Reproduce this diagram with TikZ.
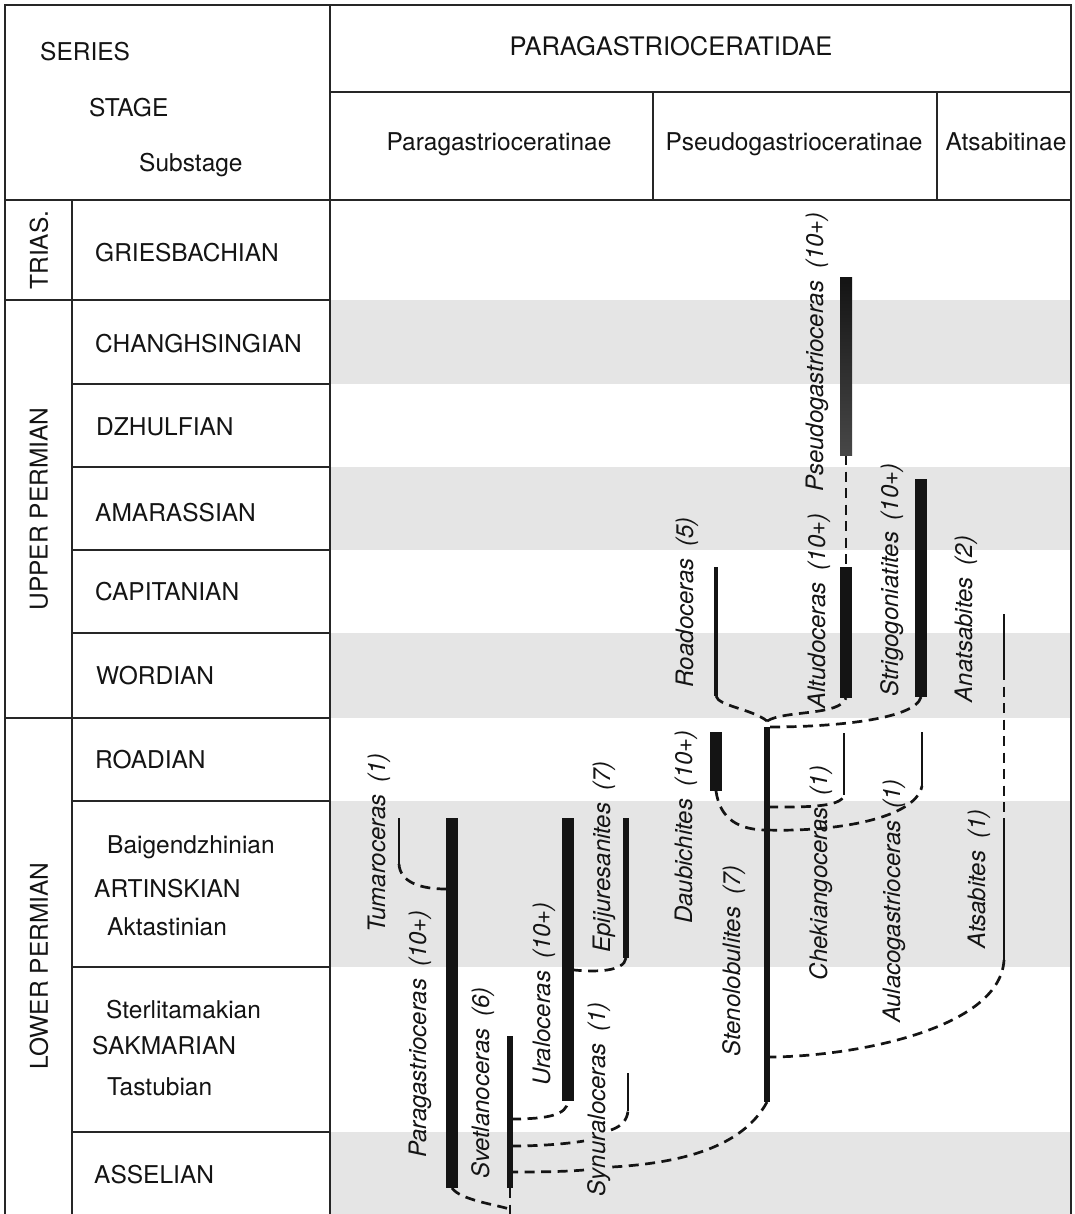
\documentclass[tikz,border=0pt]{standalone}
\usepackage{fontspec}
\setmainfont{TeX Gyre Heros}
\definecolor{bandgray}{RGB}{229,229,229}
\definecolor{ink}{RGB}{20,20,20}
\begin{document}
\begin{tikzpicture}[x=1pt,y=-1pt,
  frame/.style={line width=1.4pt, draw=black!85},
  band/.style={fill=bandgray, draw=none},
  hdr/.style={font=\fontsize{24.5}{28}\selectfont, inner sep=0pt, text=ink},
  stagelbl/.style={font=\fontsize{24.5}{28}\selectfont, inner sep=0pt, anchor=base west, text=ink},
  serieslbl/.style={font=\fontsize{24.5}{28}\selectfont, inner sep=0pt, rotate=90, text=ink},
  taxon/.style={font=\fontsize{24}{28}\selectfont\itshape, inner sep=0pt, rotate=90, anchor=base, text=ink},
  barwide/.style={line width=12pt, draw=ink},
  barmid/.style={line width=5.5pt, draw=ink},
  barthin/.style={line width=2.1pt, draw=ink},
  link/.style={line width=2.7pt, draw=ink, dash pattern=on 10pt off 6.5pt}]
\useasboundingbox (0,0) rectangle (1074,1214);
\fill[white] (0,0) rectangle (1074,1214);

% shaded stage bands
\fill[band] (331,300) rectangle (1071,384);
\fill[band] (331,467) rectangle (1071,550);
\fill[band] (331,633) rectangle (1071,718);
\fill[band] (331,801) rectangle (1071,967);
\fill[band] (331,1132) rectangle (1071,1214);

% frame
\draw[frame] (5,1214) -- (5,5) -- (1071,5) -- (1071,1214);
\draw[frame] (330,5) -- (330,1214);
\draw[frame] (330,92) -- (1071,92);
\draw[frame] (5,200) -- (1071,200);
\draw[frame] (653,92) -- (653,200);
\draw[frame] (937,92) -- (937,200);
\draw[frame] (72,200) -- (72,1214);
\draw[frame] (5,300) -- (330,300);
\draw[frame] (5,718) -- (330,718);
\foreach \yy in {384,467,550,633,801,967,1132} \draw[frame] (72,\yy) -- (330,\yy);

% header texts
\node[hdr, anchor=base west] (hSeries) at (40,61) {SERIES};
\node[hdr, anchor=base west] (hStage) at (89,117) {STAGE};
\node[hdr, anchor=base west] (hSub) at (139,172) {Substage};
\node[hdr, anchor=base, font=\fontsize{25.5}{28}\selectfont] (hFam) at (671,56) {PARAGASTRIOCERATIDAE};
\node[hdr, anchor=base] (hPara) at (499,151) {Paragastrioceratinae};
\node[hdr, anchor=base] (hPseu) at (794,151) {Pseudogastrioceratinae};
\node[hdr, anchor=base] (hAts) at (1006,151) {Atsabitinae};

% series
\node[serieslbl] (sTri) at (39,250) {TRIAS.};
\node[serieslbl] (sUp) at (39,509) {UPPER PERMIAN};
\node[serieslbl] (sLow) at (39,966) {LOWER PERMIAN};

% stages
\node[stagelbl] (stGri) at (95,262) {GRIESBACHIAN};
\node[stagelbl] (stCha) at (95,352) {CHANGHSINGIAN};
\node[stagelbl] (stDzh) at (96,435) {DZHULFIAN};
\node[stagelbl] (stAma) at (95,521) {AMARASSIAN};
\node[stagelbl] (stCap) at (95,600) {CAPITANIAN};
\node[stagelbl] (stWor) at (96,684) {WORDIAN};
\node[stagelbl] (stRoa) at (95,768) {ROADIAN};
\node[stagelbl] (stBai) at (107,853) {Baigendzhinian};
\node[stagelbl] (stArt) at (94,897) {ARTINSKIAN};
\node[stagelbl] (stAkt) at (107,935) {Aktastinian};
\node[stagelbl] (stSte) at (106,1018) {Sterlitamakian};
\node[stagelbl] (stSak) at (92,1054) {SAKMARIAN};
\node[stagelbl] (stTas) at (107,1095) {Tastubian};
\node[stagelbl] (stAss) at (94,1183) {ASSELIAN};

% range end points
\coordinate (pseT) at (846,278);  \coordinate (pseB) at (846,455);
\coordinate (altT) at (846,567);  \coordinate (altB) at (846,698);
\coordinate (strT) at (921,479);  \coordinate (strB) at (921,697);
\coordinate (roaT) at (716,567);  \coordinate (roaB) at (716,696);
\coordinate (anaT) at (1004,614); \coordinate (anaB) at (1004,670);
\coordinate (atsT) at (1004,818); \coordinate (atsB) at (1004,960);
\coordinate (steT) at (767,727);  \coordinate (steB) at (767,1102);
\coordinate (dauT) at (716,732);  \coordinate (dauB) at (716,791);
\coordinate (cheT) at (844,733);  \coordinate (cheB) at (844,795);
\coordinate (aulT) at (922,732);  \coordinate (aulB) at (922,786);
\coordinate (tumT) at (399,818);  \coordinate (tumB) at (399,864);
\coordinate (parT) at (452,818);  \coordinate (parB) at (452,1188);
\coordinate (svtT) at (510,1036); \coordinate (svtB) at (510,1188);
\coordinate (uraT) at (568,818);  \coordinate (uraB) at (568,1101);
\coordinate (epiT) at (626,818);  \coordinate (epiB) at (626,958);
\coordinate (synT) at (628,1073); \coordinate (synB) at (628,1111);
% junctions
\coordinate (jRoa) at (767,721);
\coordinate (jStr) at (770,727);
\coordinate (jChe) at (768,807);
\coordinate (jAul) at (767,830);
\coordinate (jAts) at (768,1057);
\coordinate (jUra) at (511,1119);
\coordinate (jSyn) at (511,1146);
\coordinate (jSte) at (511,1172);
\coordinate (jPar) at (509,1209);
\coordinate (svtEnd) at (510,1214);
\coordinate (jTum) at (446,889);
\coordinate (jEpi) at (574,970);
% gaps where the Synuraloceras label crosses
\coordinate (gSynA) at (584,1141);
\coordinate (gSynB) at (611,1130);
\coordinate (gSteA) at (584,1170);
\coordinate (gSteB) at (612,1167);

% dashed links
\draw[link] (roaB) .. controls (718,706) and (752,709) .. (jRoa);
\draw[link] (jRoa) .. controls (785,710) and (840,716) .. (altB);
\draw[link] (jStr) .. controls (830,727) and (915,720) .. (strB);
\draw[link] (pseB) -- (altT);
\draw[link] (dauB) .. controls (720,820) and (740,830) .. (jAul);
\draw[link] (jAul) .. controls (830,832) and (915,820) .. (aulB);
\draw[link] (jChe) .. controls (800,807) and (842,808) .. (cheB);
\draw[link] (anaB) -- (atsT);
\draw[link] (atsB) .. controls (1000,1030) and (850,1057) .. (jAts);
\draw[link] (steB) .. controls (742,1148) and (680,1163) .. (gSteB);
\draw[link] (gSteA) .. controls (560,1172) and (530,1172) .. (jSte);
\draw[link] (jSyn) .. controls (540,1146) and (565,1144) .. (gSynA);
\draw[link] (gSynB) .. controls (622,1126) and (627,1120) .. (synB);
\draw[link] (jUra) .. controls (548,1119) and (567,1115) .. (uraB);
\draw[link] (parB) .. controls (460,1200) and (498,1205) .. (jPar);
\draw[link] (svtB) -- (svtEnd);
\draw[link] (tumB) .. controls (400,882) and (420,889) .. (jTum);
\draw[link] (epiB) .. controls (624,972) and (595,972) .. (jEpi);

% range bars
\fill[top color=ink, bottom color=black!72] ([xshift=-6pt]pseT) rectangle ([xshift=6pt]pseB);
\draw[barwide] (altT) -- (altB);
\draw[barwide] (strT) -- (strB);
\draw[barwide] (dauT) -- (dauB);
\draw[barwide] (parT) -- (parB);
\draw[barwide] (uraT) -- (uraB);
\draw[barmid, line width=4.5pt] (roaT) -- (roaB);
\draw[barmid] (steT) -- (steB);
\draw[barmid] (svtT) -- (svtB);
\draw[barmid] (epiT) -- (epiB);
\draw[barthin] (tumT) -- (tumB);
\draw[barthin] (cheT) -- (cheB);
\draw[barthin] (aulT) -- (aulB);
\draw[barthin] (anaT) -- (anaB);
\draw[barthin] (atsT) -- (atsB);
\draw[barthin] (synT) -- (synB);

% taxon labels
\node[taxon] (pseL) at (823,352) {Pseudogastrioceras\hspace{.5em}(10+)};
\node[taxon] (altL) at (825,611) {Altudoceras\hspace{.5em}(10+)};
\node[taxon] (roaL) at (693,602) {Roadoceras\hspace{.5em}(5)};
\node[taxon] (strL) at (898,580) {Strigogoniatites\hspace{.5em}(10+)};
\node[taxon] (anaL) at (972,619) {Anatsabites\hspace{.5em}(2)};
\node[taxon] (dauL) at (692,827) {Daubichites\hspace{.5em}(10+)};
\node[taxon] (steL) at (740,961) {Stenolobulites\hspace{.5em}(7)};
\node[taxon] (cheL) at (827,873) {Chekiangoceras\hspace{.5em}(1)};
\node[taxon] (aulL) at (900,901) {Aulacogastrioceras\hspace{.5em}(1)};
\node[taxon] (atsL) at (985,879) {Atsabites\hspace{.5em}(1)};
\node[taxon] (tumL) at (385,843) {Tumaroceras\hspace{.5em}(1)};
\node[taxon] (parL) at (426,1034) {Paragastrioceras\hspace{.5em}(10+)};
\node[taxon] (svtL) at (489,1083) {Svetlanoceras\hspace{.5em}(6)};
\node[taxon] (uraL) at (550,994) {Uraloceras\hspace{.5em}(10+)};
\node[taxon] (synL) at (605,1099) {Synuraloceras\hspace{.5em}(1)};
\node[taxon] (epiL) at (610,857) {Epijuresanites\hspace{.5em}(7)};
\end{tikzpicture}
\end{document}
